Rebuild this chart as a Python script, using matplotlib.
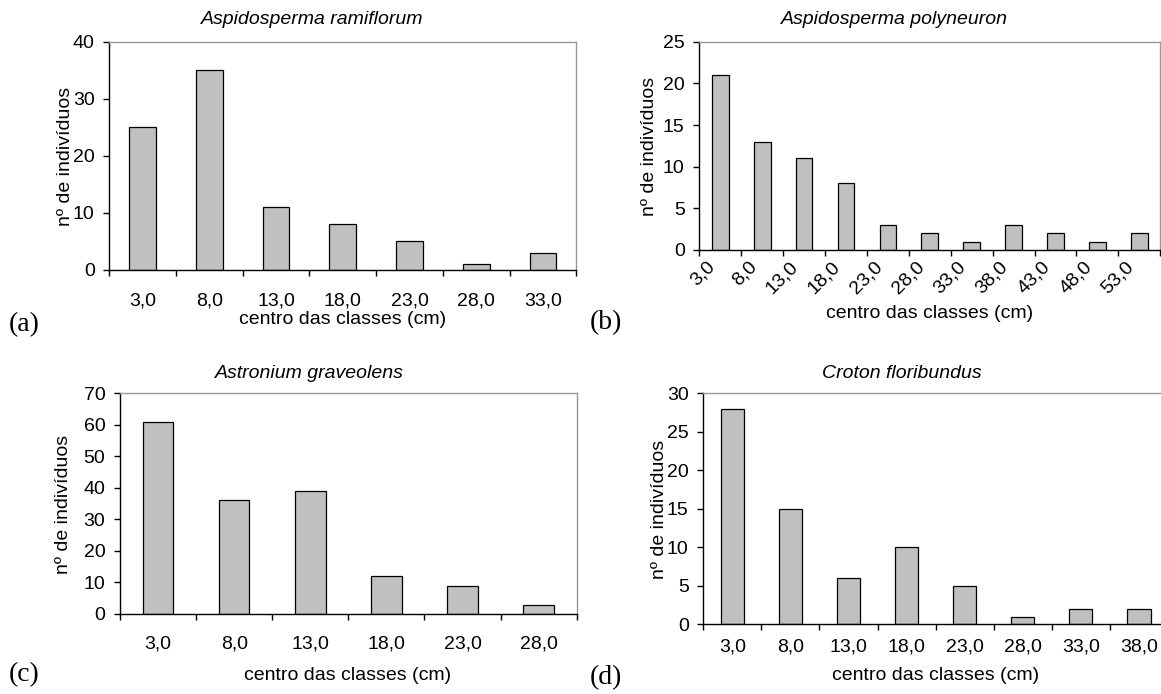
import numpy as np
import matplotlib
matplotlib.use("Agg")
import matplotlib.pyplot as plt

# ── data ──────────────────────────────────────────────────────────────────────
cats_a = ["3,0", "8,0", "13,0", "18,0", "23,0", "28,0", "33,0"]
vals_a = [25, 35, 11, 8, 5, 1, 3]

cats_b = ["3,0", "8,0", "13,0", "18,0", "23,0", "28,0", "33,0", "38,0",
          "43,0", "48,0", "53,0"]
vals_b = [21, 13, 11, 8, 3, 2, 1, 3, 2, 1, 2]

cats_c = ["3,0", "8,0", "13,0", "18,0", "23,0", "28,0"]
vals_c = [61, 36, 39, 12, 9, 3]

cats_d = ["3,0", "8,0", "13,0", "18,0", "23,0", "28,0", "33,0", "38,0"]
vals_d = [28, 15, 6, 10, 5, 1, 2, 2]

titles = ["Aspidosperma ramiflorum", "Aspidosperma polyneuron",
          "Astronium graveolens", "Croton floribundus"]
XLABEL = "centro das classes (cm)"
YLABEL = "nº de indivíduos"

# ── layout (pixels of a 1161x694 canvas) ─────────────────────────────────────
W, H = 1161, 694
FS = 14
SANS = "Liberation Sans"
SERIF = "Liberation Serif"
BAR_COLOR = "#C0C0C0"
FRAME_GRAY = "#999999"


def fx(px):
    return px / W


def fy(py):
    return 1 - py / H


def make_axes(fig, left, top, right, bottom):
    return fig.add_axes([fx(left), fy(bottom), (right - left) / W, (bottom - top) / H])


def plot_panel(ax, cats, vals, ymax, ystep, xpad, rotate=False):
    n = len(cats)
    x = np.arange(n)
    ax.bar(x, vals, width=0.4, color=BAR_COLOR, edgecolor="black",
           linewidth=0.9, zorder=2)
    ax.set_xlim(-0.5, n - 0.5)
    ax.set_ylim(0, ymax)
    ax.set_yticks(np.arange(0, ymax + 1, ystep))

    ax.set_xticks(np.arange(-0.5, n, 1), minor=True)
    if rotate:
        ax.set_xticks(x - 0.2)
        ax.set_xticklabels(cats, rotation=45, ha="right", va="center",
                           rotation_mode="anchor")
    else:
        ax.set_xticks(x)
        ax.set_xticklabels(cats)

    ax.tick_params(axis="x", which="major", length=0, pad=xpad, labelsize=FS)
    ax.tick_params(axis="x", which="minor", length=4, width=1, direction="out")
    ax.tick_params(axis="y", length=4.5, width=1, pad=6, labelsize=FS,
                   direction="out")

    for side in ["left", "bottom"]:
        ax.spines[side].set_color("black")
        ax.spines[side].set_linewidth(1)
    for side in ["top", "right"]:
        ax.spines[side].set_color(FRAME_GRAY)
        ax.spines[side].set_linewidth(1)


def main():
    plt.rcParams["font.family"] = [SANS, "DejaVu Sans"]
    fig = plt.figure(figsize=(W / 100, H / 100), dpi=100)

    ax_a = make_axes(fig, 109.3, 41.7, 576.3, 270)
    ax_b = make_axes(fig, 699.3, 41.7, 1160.3, 250)
    ax_c = make_axes(fig, 120, 393.3, 576.7, 614)
    ax_d = make_axes(fig, 703.3, 393.3, 1168, 624.3)

    plot_panel(ax_a, cats_a, vals_a, 40, 10, xpad=16.5)
    plot_panel(ax_b, cats_b, vals_b, 25, 5, xpad=10, rotate=True)
    plot_panel(ax_c, cats_c, vals_c, 70, 10, xpad=15.5)
    plot_panel(ax_d, cats_d, vals_d, 30, 5, xpad=10.5)

    # titles
    for (tx, ty), t in zip([(312, 20), (894, 20), (309, 373), (902, 373)], titles):
        fig.text(fx(tx), fy(ty), t, ha="center", va="center",
                 fontsize=FS, style="italic")

    # axis labels
    for lx, ly in [(342.5, 320), (930, 313), (347.5, 675), (936, 675)]:
        fig.text(fx(lx), fy(ly), XLABEL, ha="center", va="center", fontsize=FS)
    for lx, ly in [(65, 156), (650, 146), (64, 504), (660, 509)]:
        fig.text(fx(lx), fy(ly), YLABEL, ha="center", va="center",
                 rotation=90, fontsize=FS)

    # panel letters
    for (px_, py_), s in zip([(24, 325), (606, 323), (24, 675), (606, 678)],
                             ["(a)", "(b)", "(c)", "(d)"]):
        fig.text(fx(px_), fy(py_), s, ha="center", va="center",
                 fontsize=20, family=SERIF)

    fig.savefig("out.png", dpi=100)
    plt.close(fig)


if __name__ == "__main__":
    main()
